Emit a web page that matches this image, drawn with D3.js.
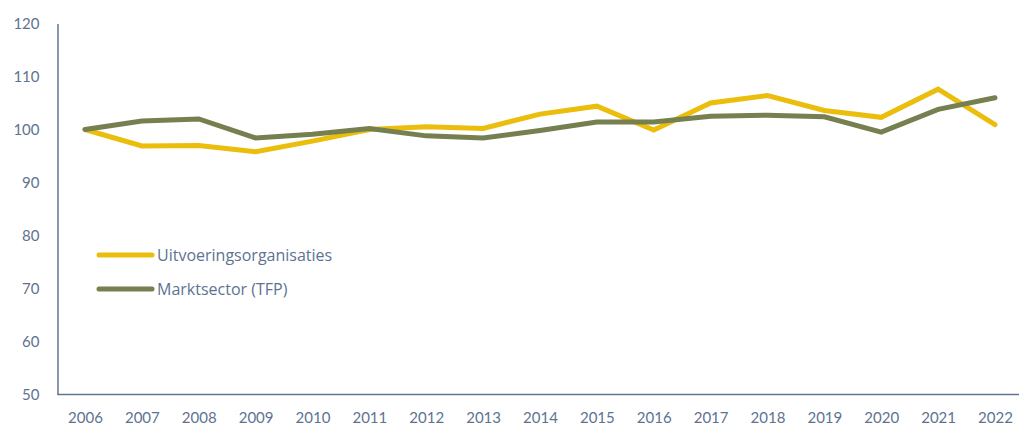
<!DOCTYPE html>
<html>
<head>
<meta charset="utf-8">
<script src="https://cdn.jsdelivr.net/npm/d3@7"></script>
<style>
    body { margin: 0; background: #fff; }
    text { font-family: Lato, "Open Sans", sans-serif; fill: #5d7391; }
    .legend text { font-family: "Open Sans", Lato, sans-serif; }
</style>
</head>
<body>
<svg id="chart"></svg>
<script>
(function() {

    // Data.
    const years = [2006, 2007, 2008, 2009, 2010, 2011, 2012, 2013, 2014, 2015, 2016, 2017, 2018, 2019, 2020, 2021, 2022];
    const uitvoering = [100, 96.9, 97.0, 95.8, 97.8, 100.0, 100.5, 100.2, 102.9, 104.4, 99.9, 105.0, 106.4, 103.6, 102.3, 107.6, 100.9];
    const marktsector = [100, 101.6, 102.0, 98.4, 99.1, 100.2, 98.8, 98.4, 99.8, 101.4, 101.4, 102.5, 102.7, 102.4, 99.5, 103.8, 106.0];
    const yTicks = [50, 60, 70, 80, 90, 100, 110, 120];
    const seriesNames = ['Uitvoeringsorganisaties', 'Marktsector (TFP)'];
    const seriesColors = ['#ebbd0c', '#757f50'];

    const w = 1019;
    const h = 429;
    const axisColor = '#5f7590';

    const svg = d3.select('#chart')
        .attr('width', w)
        .attr('height', h);

    // Scales
    const scaleX = d3.scaleLinear().domain([2006, 2022]).range([85, 995]);
    const scaleY = d3.scaleLinear().domain([50, 120]).range([394.5, 23.5]);

    // Y axis
    const yAxis = d3.axisLeft(scaleY).tickValues(yTicks).tickSize(0).tickPadding(18);
    const gy = svg.append('g')
        .attr('transform', 'translate(57.5, 0)')
        .call(yAxis);
    gy.select('.domain').attr('stroke', axisColor).attr('stroke-width', 1.5);
    gy.selectAll('text').style('font-size', '15px').attr('dy', '0.35em');

    // X axis
    const xAxis = d3.axisBottom(scaleX).tickValues(years).tickFormat(d3.format('d')).tickSize(0).tickPadding(18);
    const gx = svg.append('g')
        .attr('transform', `translate(0, ${scaleY(50)})`)
        .call(xAxis);
    gx.select('.domain').attr('d', `M57.5,0H${w}`).attr('stroke', axisColor).attr('stroke-width', 1.5);
    gx.selectAll('text').style('font-size', '15px');

    // Lines
    const line = d3.line()
        .x((d, i) => scaleX(years[i]))
        .y(d => scaleY(d));

    [uitvoering, marktsector].forEach((values, i) => {
        svg.append('path')
            .datum(values)
            .attr('fill', 'none')
            .attr('stroke', seriesColors[i])
            .attr('stroke-width', 5)
            .attr('stroke-linejoin', 'miter')
            .attr('stroke-linecap', 'round')
            .attr('d', line);
    });

    // Legend
    const legend = svg.append('g').attr('class', 'legend').attr('transform', 'translate(99, 255)');
    seriesNames.forEach((name, i) => {
        const row = legend.append('g').attr('transform', `translate(0, ${i * 34})`);
        row.append('line')
            .attr('x1', 0).attr('x2', 53)
            .attr('stroke', seriesColors[i])
            .attr('stroke-width', 5)
            .attr('stroke-linecap', 'round');
        row.append('text')
            .attr('x', 58)
            .attr('dy', '0.35em')
            .style('font-size', '16px')
            .text(name);
    });

})();
</script>
</body>
</html>
